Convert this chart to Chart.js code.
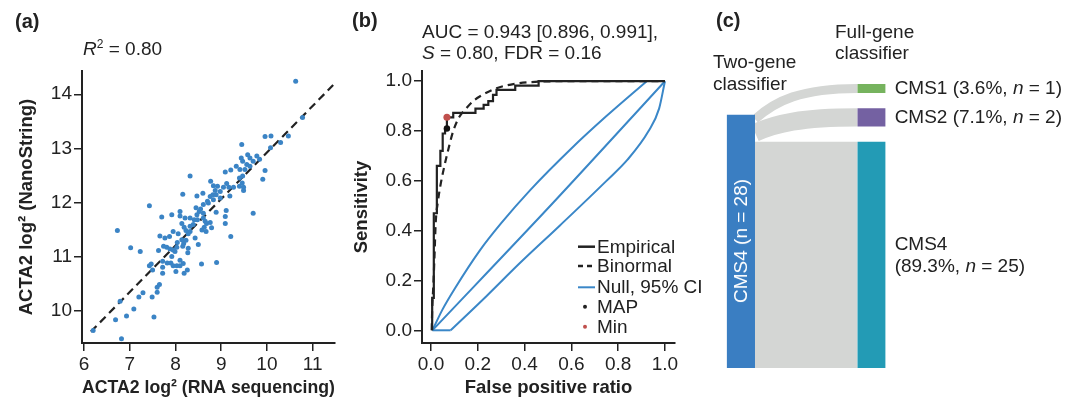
<!DOCTYPE html>
<html>
<head>
<meta charset="utf-8">
<script src="https://cdn.jsdelivr.net/npm/chart.js@4.4.1/dist/chart.umd.min.js"></script>
<style>
  body { margin: 0; background: #fff; }
  #fig { position: relative; width: 1065px; height: 404px; overflow: hidden;
         font-family: "Liberation Sans", Arial, sans-serif; color: #222; }
  canvas { position: absolute; top: 0; }
  .t { position: absolute; font-size: 19px; line-height: 22px; white-space: nowrap; }
  .b { font-weight: bold; }
  sup { font-size: 12px; line-height: 0; vertical-align: 7px; }
</style>
</head>
<body>
<div id="fig">
  <canvas id="chartA" width="350" height="404" style="left:0"></canvas>
  <canvas id="chartB" width="350" height="404" style="left:350px"></canvas>
  <canvas id="chartC" width="365" height="404" style="left:700px"></canvas>

  <div class="t b" style="left:15px;top:10px;font-size:20px">(a)</div>
  <div class="t" style="left:83px;top:38px"><i>R</i><sup>2</sup> = 0.80</div>

  <div class="t b" style="left:352px;top:9px;font-size:20px">(b)</div>
  <div class="t" style="left:422px;top:21px">AUC = 0.943 [0.896, 0.991],</div>
  <div class="t" style="left:422px;top:42px"><i>S</i> = 0.80, FDR = 0.16</div>

  <svg style="position:absolute;left:576px;top:236px" width="22" height="100">
    <line x1="2" y1="10.7" x2="19" y2="10.7" stroke="#222" stroke-width="2.5"/>
    <line x1="2" y1="30" x2="19" y2="30" stroke="#222" stroke-width="2.5" stroke-dasharray="5,4"/>
    <line x1="2" y1="51.3" x2="19" y2="51.3" stroke="#3a87c8" stroke-width="2"/>
    <circle cx="9" cy="70.7" r="2" fill="#222"/>
    <circle cx="9" cy="90.7" r="2" fill="#c0504d"/>
  </svg>
  <div class="t" style="left:597px;top:235.7px">Empirical</div>
  <div class="t" style="left:597px;top:255px">Binormal</div>
  <div class="t" style="left:597px;top:276.3px">Null, 95% CI</div>
  <div class="t" style="left:597px;top:295.7px">MAP</div>
  <div class="t" style="left:597px;top:315.7px">Min</div>

  <div class="t b" style="left:716px;top:9px;font-size:20px">(c)</div>
  <div class="t" style="left:713px;top:51px">Two-gene</div>
  <div class="t" style="left:713px;top:73px">classifier</div>
  <div class="t" style="left:835px;top:21px">Full-gene</div>
  <div class="t" style="left:835px;top:42px">classifier</div>
</div>

<script>
// (a) ACTA2 expression, RNA-seq vs NanoString
const rnaSeq = [
  6.20, 6.82, 6.69, 6.93, 7.53, 7.09, 6.79, 7.20, 7.49, 7.29, 7.60, 7.60, 7.65, 7.43, 7.47, 7.50,
  6.73, 7.02, 7.23, 7.43, 7.70, 7.92,
  7.72, 7.72, 7.72, 7.82, 7.90, 7.95, 8.03, 8.10, 8.17, 8.26, 8.10, 8.01, 8.19, 7.92, 7.99, 7.63,
  7.74, 7.81, 7.88, 7.95, 8.03, 8.14, 8.23, 8.28, 8.32, 8.43, 8.50, 7.95, 8.06, 7.66, 7.77, 7.87,
  8.18, 8.16, 8.27, 8.57, 8.90, 8.04, 8.67, 8.58, 8.28, 9.21, 9.09,
  8.72, 8.61, 8.55, 8.45, 8.52, 8.61, 8.47, 8.32, 8.41, 8.48, 8.61, 8.65, 8.68, 8.79, 8.63, 8.76,
  8.89, 9.11, 9.09, 9.70, 8.21, 8.10, 8.10, 8.14, 8.19, 8.23, 8.32, 8.70, 8.83, 8.39,
  8.16, 8.47, 8.60, 8.76, 8.82, 8.89, 8.87, 8.98, 8.77, 8.83, 8.92, 9.05, 9.17, 9.27, 9.40, 9.49,
  9.19, 8.98, 9.49, 8.32, 9.12, 9.46, 9.40, 9.47, 9.91, 9.09, 9.21, 9.41, 9.52, 9.96, 9.33, 9.56,
  9.63, 9.70, 9.44, 9.47, 9.58, 9.63, 9.78, 9.84, 9.45, 10.08, 9.96, 10.09, 10.30, 10.47, 10.78, 10.63
];
const nanoString = [
  9.63, 9.48, 9.83, 9.90, 9.88, 10.03, 10.17, 10.25, 10.25, 10.33, 10.34, 10.43, 10.48, 10.83, 10.86, 10.75,
  11.48, 11.16, 11.09, 11.94, 11.73, 11.77,
  10.69, 10.80, 10.91, 10.88, 10.88, 10.83, 10.83, 10.83, 10.87, 10.75, 10.93, 10.72, 10.69, 11.00, 11.09, 11.11,
  11.19, 11.17, 11.14, 11.12, 11.17, 11.31, 11.30, 11.15, 11.46, 11.34, 11.22, 11.46, 11.42, 11.38, 11.34, 11.37,
  11.24, 11.19, 11.07, 10.86, 10.89, 11.26, 11.46, 11.49, 11.42, 11.37, 11.61,
  11.99, 11.96, 11.88, 11.90, 11.83, 11.80, 11.77, 11.71, 11.68, 11.68, 11.71, 11.65, 11.61, 11.53, 11.54, 11.63,
  11.82, 11.85, 11.74, 11.80, 11.71, 11.83, 11.75, 11.61, 11.54, 11.48, 11.56, 12.02, 12.05, 11.59,
  12.15, 12.12, 12.17, 12.11, 12.14, 12.14, 12.22, 12.20, 12.39, 12.31, 12.30, 12.28, 12.28, 12.28, 12.30, 12.28,
  12.12, 12.08, 12.22, 12.49, 12.35, 12.36, 12.45, 12.49, 12.43, 12.56, 12.60, 12.61, 12.61, 12.59, 12.67, 12.70,
  12.67, 12.76, 12.82, 12.76, 12.88, 12.82, 12.86, 12.80, 13.07, 13.01, 13.22, 13.23, 13.11, 13.23, 13.57, 14.24
];
const fitX = [6.15, 11.45];
const fitY = [9.61, 14.17];
const aTicksX = [6, 7, 8, 9, 10, 11];
const aTicksY = [10, 11, 12, 13, 14];

// (b) ROC curves
const empFpr = [0.005, 0.012, 0.025, 0.04, 0.05, 0.06, 0.068, 0.095, 0.19, 0.225, 0.245, 0.265, 0.28, 0.36, 0.46, 1.0];
const empTpr = [0, 0.13, 0.47, 0.66, 0.72, 0.79, 0.81, 0.855, 0.873, 0.89, 0.905, 0.92, 0.945, 0.965, 0.982, 1.0];
const binFpr = [0.003, 0.005, 0.01, 0.015, 0.02, 0.03, 0.04, 0.055, 0.075, 0.095, 0.12, 0.15, 0.18, 0.22, 0.28, 0.36, 0.46, 0.6, 1.0];
const binTpr = [0, 0.08, 0.18, 0.30, 0.43, 0.52, 0.58, 0.65, 0.73, 0.80, 0.855, 0.89, 0.92, 0.945, 0.972, 0.99, 0.998, 1.0, 1.0];
const nullFpr = [0.006, 0.52, 1.0];
const nullTpr = [0, 0.51, 1.0];
const ciUpFpr = [0.006, 0.05, 0.1, 0.209, 0.3, 0.423, 0.6, 0.75, 0.922];
const ciUpTpr = [0, 0.085, 0.165, 0.321, 0.43, 0.562, 0.73, 0.86, 1.0];
const ciLoFpr = [0.006, 0.084, 0.24, 0.38, 0.55, 0.75, 0.84, 0.93, 0.975, 1.0];
const ciLoTpr = [0, 0, 0.14, 0.27, 0.42, 0.60, 0.685, 0.80, 0.89, 1.0];
const mapPoint = [0.068, 0.81];
const minPoint = [0.068, 0.855];
const rocTicks = [0, 0.2, 0.4, 0.6, 0.8, 1.0];

// (c) two-gene vs full-gene classifier
const sourceName = 'CMS4';
const sourceCount = 28;
const targetNames = ['CMS1', 'CMS2', 'CMS4'];
const targetCounts = [1, 2, 25];
const targetShares = ['3.6%', '7.1%', '89.3%'];

Chart.defaults.font.family = '"Liberation Sans", Arial, sans-serif';
Chart.defaults.color = '#222';

const pts = (xs, ys) => xs.map((x, i) => ({ x: x, y: ys[i] }));

function axis(title, min, max, ticks, digits, size, titlePad) {
    return {
        type: 'linear',
        min: min,
        max: max,
        afterBuildTicks: s => { s.ticks = ticks.map(v => ({ value: v })); },
        afterFit: s => { if (s.isHorizontal()) s.height = size; else s.width = size; },
        ticks: { autoSkip: false, padding: 2, font: { size: 19 }, color: '#222', callback: v => v.toFixed(digits) },
        grid: { drawOnChartArea: false, drawTicks: true, tickLength: 8, color: '#222', lineWidth: 1.5 },
        border: { display: true, color: '#222', width: 2 },
        title: { display: true, text: title, color: '#222', font: { size: 18.5, weight: 'bold' }, padding: titlePad }
    };
}

const common = {
    responsive: false,
    animation: false,
    plugins: { legend: { display: false }, tooltip: { enabled: false } }
};

new Chart(document.getElementById('chartA'), {
    type: 'scatter',
    data: {
        datasets: [
            {
                data: pts(rnaSeq, nanoString),
                backgroundColor: '#3b84c5',
                borderWidth: 0,
                pointRadius: 2.5
            },
            {
                data: pts(fitX, fitY),
                showLine: true,
                borderColor: '#222',
                borderWidth: 2.2,
                borderDash: [8, 5],
                pointRadius: 0
            }
        ]
    },
    options: {
        ...common,
        layout: { padding: { left: 0, top: 71, right: 15, bottom: 0 } },
        scales: {
            x: axis('ACTA2 log² (RNA sequencing)', 5.956, 11.49, aTicksX, 0, 61, { top: 0, bottom: 5 }),
            y: axis('ACTA2 log² (NanoString)', 9.40, 14.43, aTicksY, 0, 82, { top: 16, bottom: 0 })
        }
    }
});

const blue = '#3a87c8';
const line = (xs, ys, color, extra) => Object.assign({
    data: pts(xs, ys), showLine: true, borderColor: color, borderWidth: 2,
    pointRadius: 0, fill: false
}, extra);

new Chart(document.getElementById('chartB'), {
    type: 'scatter',
    data: {
        datasets: [
            { data: [{ x: minPoint[0], y: minPoint[1] }], backgroundColor: '#c0504d', borderWidth: 0, pointRadius: 3.5 },
            { data: [{ x: mapPoint[0], y: mapPoint[1] }], backgroundColor: '#111', borderWidth: 0, pointRadius: 3.2 },
            line(empFpr, empTpr, '#222', { stepped: 'after', borderWidth: 2.2 }),
            line(binFpr, binTpr, '#222', { borderDash: [7, 5], borderWidth: 2.2, cubicInterpolationMode: 'monotone' }),
            line(nullFpr, nullTpr, blue, { cubicInterpolationMode: 'monotone' }),
            line(ciUpFpr, ciUpTpr, blue, { cubicInterpolationMode: 'monotone' }),
            // lower band: flat foot, then the rising curve
            line(ciLoFpr.slice(0, 2), ciLoTpr.slice(0, 2), blue),
            line(ciLoFpr.slice(1), ciLoTpr.slice(1), blue, { cubicInterpolationMode: 'monotone' })
        ]
    },
    options: {
        ...common,
        layout: { padding: { left: 0, top: 71, right: 25, bottom: 0 } },
        scales: {
            x: axis('False positive ratio', -0.0385, 1.043, rocTicks, 1, 61, { top: 0, bottom: 5 }),
            y: axis('Sensitivity', -0.051, 1.041, rocTicks, 1, 72, { top: 1, bottom: 0 })
        }
    }
});

// sankey layout: left column at x=0, right column at x=1, counts on y
const colX = [0, 1];
const nodeW = 0.217;
const nodeGap = 1.7;
const targetNodes = [];
let bottom = sourceCount;
for (let i = targetCounts.length - 1; i >= 0; i--) {
    targetNodes[i] = { top: bottom - targetCounts[i], bottom: bottom };
    bottom = bottom - targetCounts[i] - nodeGap;
}
const nodeColors = ['#76b35e', '#7461a2', '#239bb5'];

// links drawn as thick strokes along a curve, like the original figure
const sankeyLinks = {
    id: 'sankeyLinks',
    beforeDatasetsDraw(chart) {
        const { ctx, chartArea, scales: { x, y } } = chart;
        const x0 = x.getPixelForValue(colX[0] + nodeW);
        const x1 = x.getPixelForValue(colX[1]);
        const dx = x1 - x0;
        let s = 0;
        ctx.save();
        ctx.beginPath();
        ctx.rect(x0 - 1, chartArea.top, dx + 2, chartArea.bottom - chartArea.top);
        ctx.clip();
        ctx.strokeStyle = '#d4d6d4';
        ctx.lineCap = 'butt';
        targetCounts.forEach((n, i) => {
            const nd = targetNodes[i];
            const a = y.getPixelForValue(s + n / 2);
            const b = y.getPixelForValue((nd.top + nd.bottom) / 2);
            ctx.lineWidth = Math.abs(y.getPixelForValue(n) - y.getPixelForValue(0));
            ctx.beginPath();
            ctx.moveTo(x0, a);
            ctx.bezierCurveTo(x0 + 0.2 * dx, a + 0.6 * (b - a), x0 + 0.45 * dx, b, x1, b);
            ctx.stroke();
            s += n;
        });
        ctx.restore();
    }
};

const nodeSet = (x, top, bot, color) => ({
    data: [{ x: x, y: top }, { x: x + nodeW, y: top }],
    showLine: true, borderWidth: 0, pointRadius: 0,
    backgroundColor: color, fill: { value: bot }
});

const chartC = new Chart(document.getElementById('chartC'), {
    type: 'scatter',
    data: {
        datasets: [nodeSet(colX[0], 0, sourceCount, '#3a7ec2')].concat(
            targetNodes.map((nd, i) => nodeSet(colX[1], nd.top, nd.bottom, nodeColors[i])))
    },
    options: {
        ...common,
        layout: { padding: 0 },
        scales: {
            x: { type: 'linear', display: false, min: -0.204, max: 2.59 },
            y: { type: 'linear', display: false, reverse: true, min: -12.67, max: 31.97 }
        }
    },
    plugins: [sankeyLinks]
});

const fig = document.getElementById('fig');
const sx = chartC.scales.x, sy = chartC.scales.y;
const offX = 700;

targetNodes.forEach((nd, i) => {
    const div = document.createElement('div');
    div.className = 't';
    const twoLines = targetCounts[i] / sourceCount > 0.5;
    div.innerHTML = targetNames[i] + (twoLines ? '<br>' : ' ') +
        '(' + targetShares[i] + ', <i>n</i> = ' + targetCounts[i] + ')';
    const cy = (sy.getPixelForValue(nd.top) + sy.getPixelForValue(nd.bottom)) / 2;
    div.style.left = (offX + sx.getPixelForValue(colX[1] + nodeW) + 9) + 'px';
    div.style.top = (cy - (twoLines ? 22 : 11)) + 'px';
    fig.appendChild(div);
});

const src = document.createElement('div');
src.className = 't';
src.style.color = '#fff';
src.textContent = sourceName + ' (n = ' + sourceCount + ')';
src.style.left = (offX + sx.getPixelForValue(colX[0] + nodeW / 2)) + 'px';
src.style.top = ((sy.getPixelForValue(0) + sy.getPixelForValue(sourceCount)) / 2) + 'px';
src.style.transform = 'translate(-50%, -50%) rotate(-90deg)';
fig.appendChild(src);
</script>
</body>
</html>
